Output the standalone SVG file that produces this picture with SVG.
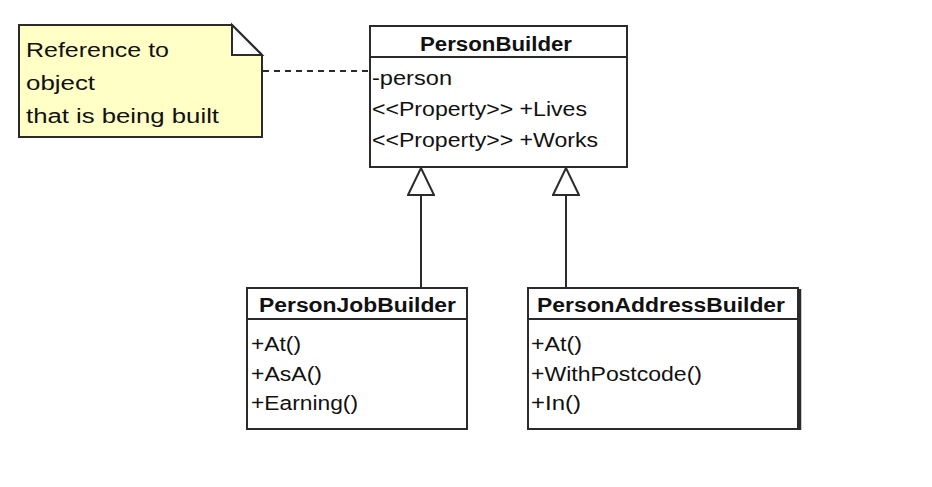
<svg xmlns="http://www.w3.org/2000/svg" width="932" height="487" viewBox="0 0 932 487">
<style>
  .box { fill: #ffffff; stroke: #2b2b2b; stroke-width: 2; }
  .div { stroke: #2b2b2b; stroke-width: 2; }
  .t { font-family: "Liberation Sans", Arial, sans-serif; font-size: 20px; fill: #111; }
  .b { font-weight: bold; }
  .note { fill: #ffffc6; stroke: #2b2b2b; stroke-width: 2; }
  .conn { stroke: #2b2b2b; stroke-width: 2; fill: none; }
  .dash { stroke-dasharray: 6 5; }
</style>
<defs>
  <marker id="gen" markerUnits="userSpaceOnUse" viewBox="0 0 30 28" markerWidth="30" markerHeight="28" refX="28" refY="14" orient="auto">
    <path d="M1,1 L28,14 L1,27 Z" fill="#ffffff" stroke="#2b2b2b" stroke-width="2"/>
  </marker>
</defs>
<rect width="932" height="487" fill="#ffffff"/>

<g id="connectors">
  <line class="conn dash" x1="263" y1="71" x2="370" y2="71"/>
  <line class="conn" x1="421" y1="288" x2="421" y2="168" marker-end="url(#gen)"/>
  <line class="conn" x1="566" y1="288" x2="566" y2="168" marker-end="url(#gen)"/>
</g>

<g id="note">
  <path class="note" d="M19,25 L232,25 L262,55 L262,137 L19,137 Z"/>
  <path d="M232,25 L262,55 L232,55 Z" fill="#ffffff" stroke="#2b2b2b" stroke-width="2" stroke-linejoin="miter"/>
  <text class="t" x="26" y="57" textLength="143" lengthAdjust="spacingAndGlyphs">Reference to</text>
  <text class="t" x="26" y="90" textLength="69" lengthAdjust="spacingAndGlyphs">object</text>
  <text class="t" x="26" y="123" textLength="193" lengthAdjust="spacingAndGlyphs">that is being built</text>
</g>

<g id="PersonBuilder">
  <rect class="box" x="370" y="26" width="257" height="141"/>
  <line class="div" x1="370" y1="57" x2="627" y2="57"/>
  <text class="t b" x="420" y="50.5" textLength="152" lengthAdjust="spacingAndGlyphs">PersonBuilder</text>
  <text class="t" x="372" y="85" textLength="80" lengthAdjust="spacingAndGlyphs">-person</text>
  <text class="t" x="372" y="116" textLength="215" lengthAdjust="spacingAndGlyphs">&lt;&lt;Property&gt;&gt; +Lives</text>
  <text class="t" x="372" y="147" textLength="226" lengthAdjust="spacingAndGlyphs">&lt;&lt;Property&gt;&gt; +Works</text>
</g>

<g id="PersonJobBuilder">
  <rect class="box" x="247" y="288" width="220" height="141"/>
  <line class="div" x1="247" y1="319" x2="467" y2="319"/>
  <text class="t b" x="259" y="311.5" textLength="197" lengthAdjust="spacingAndGlyphs">PersonJobBuilder</text>
  <text class="t" x="251" y="351" textLength="50" lengthAdjust="spacingAndGlyphs">+At()</text>
  <text class="t" x="251" y="381" textLength="71" lengthAdjust="spacingAndGlyphs">+AsA()</text>
  <text class="t" x="251" y="410" textLength="107" lengthAdjust="spacingAndGlyphs">+Earning()</text>
</g>

<g id="PersonAddressBuilder">
  <rect class="box" x="528" y="288" width="270" height="141"/>
  <line class="div" x1="528" y1="319" x2="798" y2="319"/>
  <line x1="800" y1="289" x2="800" y2="430" stroke="#2b2b2b" stroke-width="2.5"/>
  <text class="t b" x="537" y="311.5" textLength="248" lengthAdjust="spacingAndGlyphs">PersonAddressBuilder</text>
  <text class="t" x="531" y="351" textLength="51" lengthAdjust="spacingAndGlyphs">+At()</text>
  <text class="t" x="531" y="381" textLength="171" lengthAdjust="spacingAndGlyphs">+WithPostcode()</text>
  <text class="t" x="531" y="410" textLength="50" lengthAdjust="spacingAndGlyphs">+In()</text>
</g>
</svg>
